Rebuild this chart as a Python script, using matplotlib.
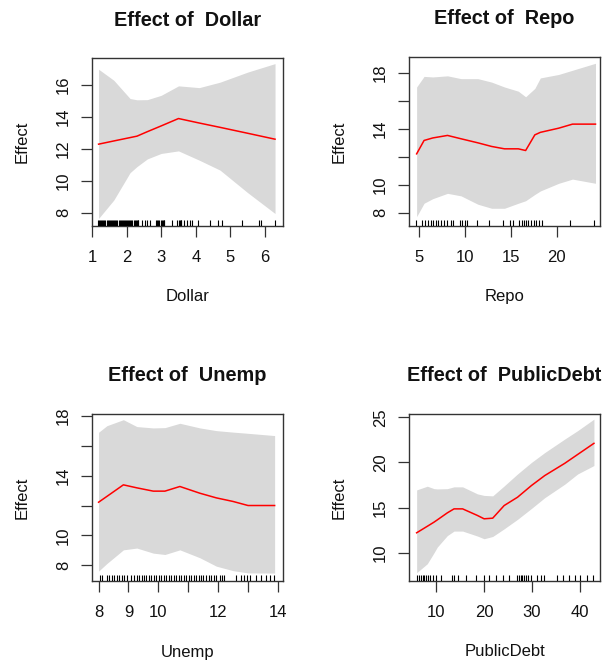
import matplotlib
matplotlib.use("Agg")
import matplotlib.pyplot as plt
import matplotlib.transforms as mtransforms

plt.rcParams['font.family'] = ['Liberation Sans', 'DejaVu Sans']

# ---------------- data ----------------
dollar_x = [1.19, 1.63, 2.1, 2.3, 2.6, 3.0, 3.5, 4.1, 4.7, 5.5, 6.29]
dollar_fit = [12.28, 12.48, 12.69, 12.78, 13.06, 13.42, 13.88, 13.60, 13.33, 12.96, 12.59]
dollar_upper = [16.96, 16.27, 15.13, 15.05, 15.06, 15.33, 15.92, 15.81, 16.15, 16.78, 17.31]
dollar_lower = [7.64, 8.79, 10.5, 10.88, 11.36, 11.7, 11.86, 11.28, 10.66, 9.25, 7.95]
dollar_rug = [1.18, 1.21, 1.24, 1.27, 1.30, 1.33, 1.36, 1.39, 1.42, 1.45, 1.48, 1.51,
              1.54, 1.57, 1.60, 1.63, 1.66, 1.69, 1.71, 1.78, 1.81, 1.84, 1.87, 1.90,
              1.93, 1.96, 1.99, 2.02, 2.05, 2.08, 2.11, 2.14, 2.17, 2.20, 2.23, 2.26,
              2.29, 2.32, 2.34, 2.45, 2.53, 2.60, 2.68, 2.86, 2.89, 2.92, 2.95, 2.98,
              3.01, 3.04, 3.07, 3.09, 3.30, 3.47, 3.50, 3.53, 3.56, 3.58, 3.66, 3.74,
              3.82, 3.89, 4.07, 4.40, 4.64, 4.77, 5.34, 5.82, 5.87, 6.28]

repo_x = [4.74, 5.55, 6.5, 8.1, 9.57, 11.4, 12.9, 14.3, 15.8, 16.6, 17.6, 18.2, 20.2, 21.7, 24.2]
repo_fit = [12.21, 13.17, 13.35, 13.53, 13.29, 13.0, 12.74, 12.57, 12.57, 12.45, 13.57, 13.75, 14.05, 14.34, 14.34]
repo_upper = [17.0, 17.76, 17.72, 17.8, 17.6, 17.6, 17.35, 17.0, 16.7, 16.3, 16.9, 17.65, 17.9, 18.2, 18.7]
repo_lower = [7.71, 8.67, 9.0, 9.38, 9.2, 8.6, 8.31, 8.31, 8.67, 8.85, 9.3, 9.55, 10.1, 10.4, 10.1]
repo_rug = [4.71, 5.36, 5.62, 5.98, 6.27, 6.56, 6.82, 7.11, 7.44, 7.73, 8.09, 8.45,
            8.75, 9.47, 9.73, 10.0, 10.27, 11.29, 12.56, 14.16, 14.93, 15.18, 15.91,
            16.16, 16.38, 16.64, 16.89, 17.18, 17.47, 17.73, 18.09, 18.35, 21.44, 24.02]

unemp_x = [8.0, 8.28, 8.83, 9.28, 9.83, 10.22, 10.72, 11.39, 11.94, 12.5, 13.0, 13.89]
unemp_fit = [12.22, 12.61, 13.38, 13.18, 12.96, 12.96, 13.27, 12.82, 12.51, 12.27, 12.0, 12.0]
unemp_upper = [16.89, 17.33, 17.73, 17.27, 17.18, 17.2, 17.49, 17.18, 17.0, 16.9, 16.82, 16.67]
unemp_lower = [7.62, 8.13, 9.04, 9.16, 8.82, 8.73, 9.04, 8.51, 7.95, 7.65, 7.5, 7.49]
unemp_rug = [8.06, 8.11, 8.28, 8.35, 8.44, 8.53, 8.61, 8.69, 8.77, 8.86, 8.94, 9.10,
             9.19, 9.27, 9.35, 9.44, 9.52, 9.60, 9.69, 9.77, 9.86, 9.93, 10.02, 10.10,
             10.19, 10.27, 10.35, 10.43, 10.52, 10.60, 10.69, 10.76, 10.85, 10.93, 11.02,
             11.09, 11.18, 11.26, 11.35, 11.43, 11.51, 11.59, 11.68, 11.76, 11.85, 11.92,
             12.07, 12.14, 12.20, 12.59, 12.75, 12.88, 12.97, 13.08, 13.25, 13.44, 13.60,
             13.72, 13.88]

debt_x = [5.87, 8.1, 9.51, 10.2, 12.3, 13.7, 15.5, 18.6, 20.0, 21.8, 24.2, 27.0, 29.9, 32.7, 36.9, 39.6, 43.0]
debt_fit = [12.21, 12.93, 13.39, 13.64, 14.42, 14.86, 14.86, 14.13, 13.76, 13.83, 15.23, 16.15, 17.44, 18.55, 19.91, 20.89, 22.12]
debt_upper = [16.96, 17.37, 17.1, 17.07, 17.1, 17.3, 17.3, 16.52, 16.35, 16.3, 17.4, 18.73, 20.0, 21.1, 22.6, 23.53, 24.8]
debt_lower = [7.79, 8.78, 10.0, 10.63, 11.9, 12.4, 12.4, 11.85, 11.55, 11.8, 12.65, 13.7, 14.9, 16.1, 17.6, 18.73, 19.66]
debt_rug = [5.9, 6.3, 6.7, 7.1, 7.5, 7.9, 8.3, 8.7, 9.2, 9.9, 10.9, 13.2, 13.6, 14.6, 16.2,
            18.3, 20.0, 21.0, 22.4, 24.0, 25.2, 26.9, 27.3, 27.7, 28.0, 28.4, 28.8, 29.2,
            29.8, 31.0, 31.9, 32.6, 35.2, 36.6, 37.8, 39.0, 40.1, 41.5, 42.9]

names = ["Dollar", "Repo", "Unemp", "PublicDebt"]
xticks = [[1, 2, 3, 4, 5, 6], [5, 10, 15, 20], [8, 9, 10, 11, 12, 13, 14], [10, 20, 30, 40]]
xticklabels = [["1", "2", "3", "4", "5", "6"], ["5", "10", "15", "20"],
               ["8", "9", "10", "", "12", "", "14"], ["10", "20", "30", "40"]]
yticks = [[8, 10, 12, 14, 16], [8, 10, 12, 14, 16, 18], [8, 10, 12, 14, 16, 18], [10, 15, 20, 25]]
yticklabels = [["8", "10", "12", "14", "16"], ["8", "10", "", "14", "", "18"],
               ["8", "10", "", "14", "", "18"], ["10", "15", "20", "25"]]
xlims = [(1.0, 6.52), (3.91, 24.69), (7.78, 14.17), (4.27, 44.27)]
ylims = [(7.17, 17.66), (7.04, 19.15), (6.96, 18.11), (6.87, 25.37)]

series = [
    (dollar_x, dollar_fit, dollar_upper, dollar_lower, dollar_rug),
    (repo_x, repo_fit, repo_upper, repo_lower, repo_rug),
    (unemp_x, unemp_fit, unemp_upper, unemp_lower, unemp_rug),
    (debt_x, debt_fit, debt_upper, debt_lower, debt_rug),
]

# ---------------- layout (pixel boxes) ----------------
W, H = 608, 668
boxes = [(92, 58, 283, 226), (409, 57, 600, 226), (92, 414, 283, 581), (409, 414, 600, 581)]

fig = plt.figure(figsize=(W / 100, H / 100), dpi=100)
fig.patch.set_facecolor("white")

text_color = "#111111"
frame_color = "#333333"

for i, (l, t, r, b) in enumerate(boxes):
    ax = fig.add_axes([l / W, 1 - b / H, (r - l) / W, (b - t) / H])
    xs, fit, up, lo, rug = series[i]
    ax.fill_between(xs, lo, up, color="#D9D9D9", linewidth=0, zorder=1)
    ax.plot(xs, fit, color="red", linewidth=1.1, zorder=3)
    trans = mtransforms.blended_transform_factory(ax.transData, ax.transAxes)
    ax.vlines(rug, 0, 0.034, transform=trans, color="black", linewidth=0.8, zorder=4)

    ax.set_xlim(*xlims[i])
    ax.set_ylim(*ylims[i])
    ax.set_xticks(xticks[i])
    ax.set_xticklabels(xticklabels[i])
    ax.set_yticks(yticks[i])
    ax.set_yticklabels(yticklabels[i], rotation=90, va="center")

    for s in ax.spines.values():
        s.set_color(frame_color)
        s.set_linewidth(1.0)
    ax.tick_params(axis="both", direction="out", length=8, width=0.9,
                   color=frame_color, labelcolor=text_color, labelsize=12)
    ax.tick_params(axis="x", pad=9.5)
    ax.tick_params(axis="y", pad=7)

    hpx = b - t
    wpx = r - l
    ax.set_title("Effect of  " + names[i], fontsize=14.3, fontweight="bold",
                 color=text_color, y=1 + 38 / hpx, pad=0, va="center")
    ax.set_xlabel(names[i], fontsize=12, color=text_color)
    ax.xaxis.set_label_coords(0.5, -71 / hpx)
    ax.xaxis.label.set_va("center")
    ax.set_ylabel("Effect", fontsize=12, color=text_color)
    ax.yaxis.set_label_coords(-70 / wpx, 0.5)
    ax.yaxis.label.set_va("center")

fig.savefig("out.png", dpi=100, facecolor="white")
